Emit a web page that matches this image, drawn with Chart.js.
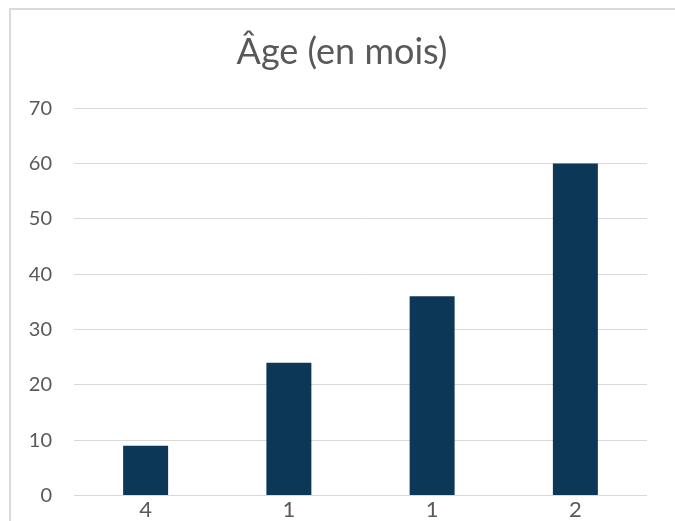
<!DOCTYPE html>
<html>
<head>
<meta charset="utf-8">
<script src="https://cdn.jsdelivr.net/npm/chart.js@4/dist/chart.umd.min.js"></script>
<style>
  html, body { margin: 0; padding: 0; background: #ffffff; overflow: hidden; }
  #wrap { position: relative; width: 675px; height: 521px; overflow: hidden; }
  #frame { position: absolute; left: 9px; top: 8px; width: 700px; height: 600px;
           border-left: 2px solid #d9d9d9; border-top: 2px solid #d9d9d9; box-sizing: border-box; }
  canvas { position: absolute; left: 0; top: 0; }
</style>
</head>
<body>
<div id="wrap">
  <div id="frame"></div>
  <canvas id="c" width="675" height="540"></canvas>
</div>
<script>
// Categories and values
const categories = ["4", "1", "1", "2"];
const ageMonths = [9, 24, 36, 60];
const yTicks = [0, 10, 20, 30, 40, 50, 60, 70];
const chartTitle = "Âge (en mois)";

const textColor = "#595959";
const fontFamily = "Lato, 'Open Sans', sans-serif";

new Chart(document.getElementById("c"), {
  type: "bar",
  data: {
    labels: categories,
    datasets: [{
      data: ageMonths,
      backgroundColor: "#0d3757",
      borderWidth: 0,
      categoryPercentage: 1,
      barPercentage: 0.314
    }]
  },
  options: {
    responsive: false,
    animation: false,
    layout: { padding: { left: 37, right: 28, top: 0, bottom: 16 } },
    plugins: {
      legend: { display: false },
      tooltip: { enabled: false },
      title: {
        display: true,
        text: chartTitle,
        color: textColor,
        font: { family: fontFamily, size: 36, weight: "normal" },
        padding: { top: 31, bottom: 34 }
      }
    },
    scales: {
      x: {
        grid: { display: false, drawTicks: false },
        border: { display: false },
        ticks: { color: textColor, font: { family: fontFamily, size: 22 }, padding: 1 }
      },
      y: {
        min: 0,
        max: 70,
        afterBuildTicks: s => { s.ticks = yTicks.map(v => ({ value: v })); },
        afterFit: s => { s.width = 37; },
        // narrow axis box: let the tick labels run past its left edge
        afterUpdate: s => { s._computeLabelArea = () => undefined; },
        grid: { color: "#d9d9d9", lineWidth: 1, drawTicks: false },
        border: { display: false },
        ticks: { color: textColor, font: { family: fontFamily, size: 20 }, padding: 22 }
      }
    }
  }
});
</script>
</body>
</html>
